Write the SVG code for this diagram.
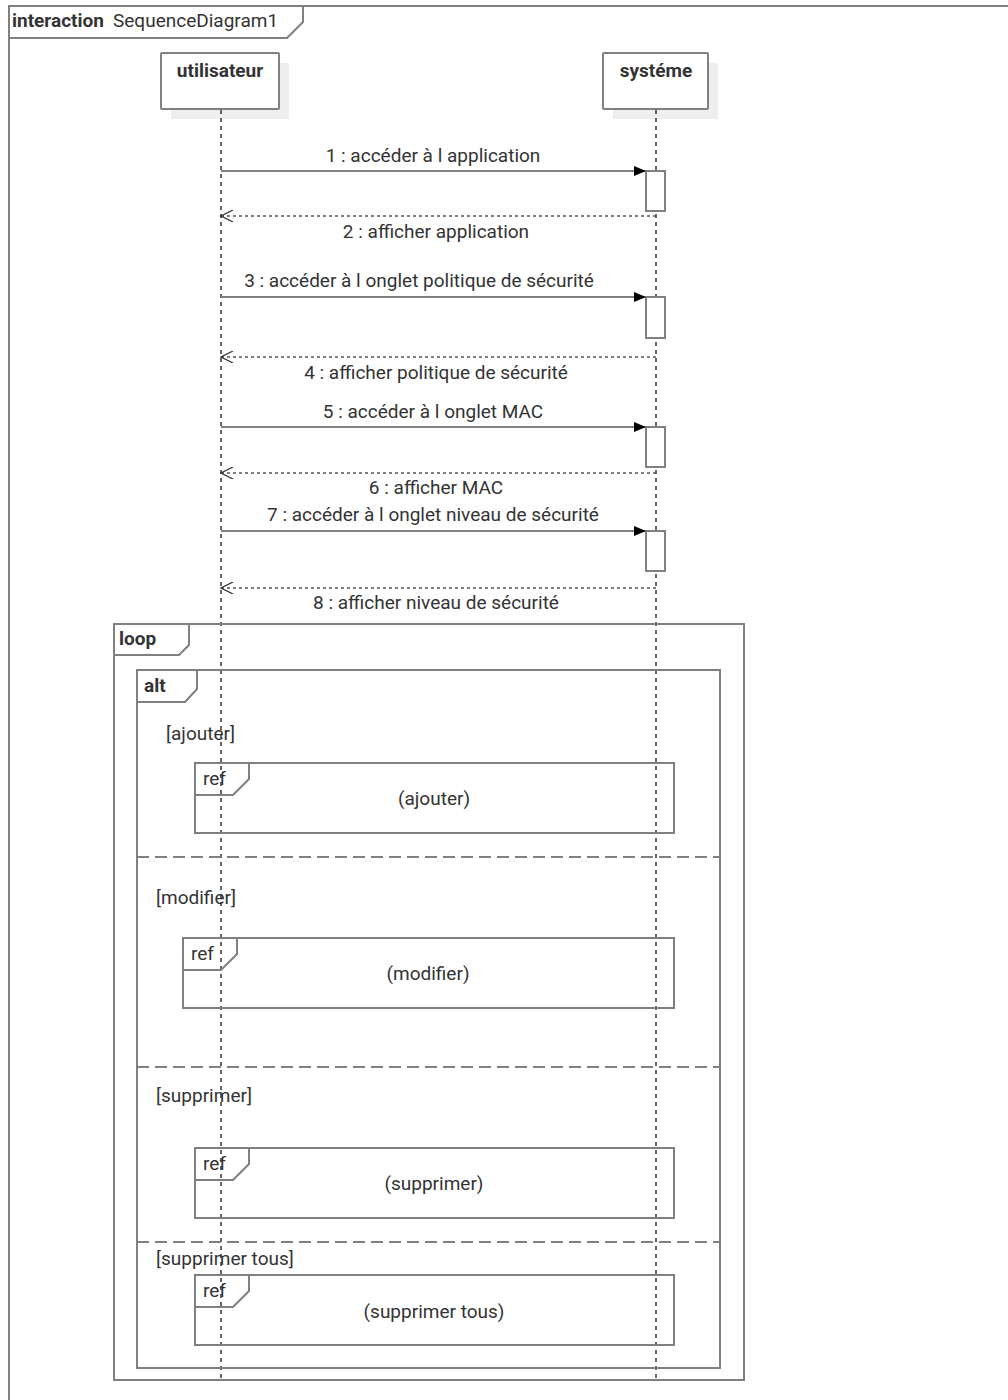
<svg xmlns="http://www.w3.org/2000/svg" width="1008" height="1400" viewBox="0 0 1008 1400">
  <defs>
    <marker id="filled" viewBox="0 0 12 10" refX="12" refY="5" markerWidth="12" markerHeight="10" markerUnits="userSpaceOnUse" orient="auto">
      <path d="M0,0 L12,5 L0,10 z" fill="#000"/>
    </marker>
    <marker id="open" viewBox="0 0 14 12" refX="13" refY="6" markerWidth="14" markerHeight="12" markerUnits="userSpaceOnUse" orient="auto">
      <path d="M1,0 L13,6 L1,12" fill="none" stroke="#333" stroke-width="1.3"/>
    </marker>
  </defs>
  <style>
    text { font-family: Roboto, "Liberation Sans", Arial, sans-serif; fill: #333; }
    .frame { fill: none; stroke: #808080; stroke-width: 2; }
    .tab { fill: none; stroke: #808080; stroke-width: 2; }
    .kw { font-size: 19px; font-weight: bold; }
    .lbl { font-size: 19px; }
    .head { font-size: 19px; font-weight: bold; text-anchor: middle; }
    .box { fill: #fff; stroke: #808080; stroke-width: 2; }
    .shadow { fill: #eeeeee; }
    .life { stroke: #333; stroke-width: 1.5; stroke-dasharray: 4 4; fill: none; }
    .call { stroke: #808080; stroke-width: 2; fill: none; }
    .ret { stroke: #555; stroke-width: 1.5; stroke-dasharray: 3 3; fill: none; }
    .act { fill: #fff; stroke: #808080; stroke-width: 2; }
    .sep { stroke: #808080; stroke-width: 2; stroke-dasharray: 12 6; }
    .mid { text-anchor: middle; }
  </style>

  <!-- interaction frame -->
  <g id="interaction">
    <path class="frame" d="M9,1410 L9,6 L1015,6"/>
    <path class="tab" d="M9,6 L303,6 L303,22 L287,38 L9,38 z"/>
    <text x="12" y="27" class="kw">interaction</text>
    <text x="113" y="27" class="lbl">SequenceDiagram1</text>
  </g>

  <!-- lifelines -->
  <g id="utilisateur">
    <rect class="shadow" x="171" y="63" width="118" height="56"/>
    <rect class="box" x="161" y="53" width="118" height="56" rx="1"/>
    <text x="220" y="77" class="head">utilisateur</text>
    <line class="life" x1="221" y1="110" x2="221" y2="1380"/>
  </g>
  <g id="systeme">
    <rect class="shadow" x="613" y="63" width="105" height="56"/>
    <rect class="box" x="603" y="53" width="105" height="56" rx="1"/>
    <text x="656" y="77" class="head">systéme</text>
    <line class="life" x1="656" y1="110" x2="656" y2="1380"/>
  </g>

  <!-- activations -->
  <g id="activations">
    <rect class="act" x="646" y="171" width="19" height="40"/>
    <rect class="act" x="646" y="297" width="19" height="41"/>
    <rect class="act" x="646" y="427" width="19" height="40"/>
    <rect class="act" x="646" y="531" width="19" height="40"/>
  </g>

  <!-- messages -->
  <g id="connectors">
    <line class="call" x1="221" y1="171" x2="646" y2="171" marker-end="url(#filled)"/>
    <text x="433" y="162" class="lbl mid">1 : accéder à l application</text>
    <line class="ret" x1="656" y1="216" x2="221" y2="216" marker-end="url(#open)"/>
    <text x="436" y="238" class="lbl mid">2 : afficher application</text>

    <line class="call" x1="221" y1="297" x2="646" y2="297" marker-end="url(#filled)"/>
    <text x="419" y="287" class="lbl mid">3 : accéder à l onglet politique de sécurité</text>
    <line class="ret" x1="656" y1="357" x2="221" y2="357" marker-end="url(#open)"/>
    <text x="436" y="379" class="lbl mid">4 : afficher politique de sécurité</text>

    <line class="call" x1="221" y1="427" x2="646" y2="427" marker-end="url(#filled)"/>
    <text x="433" y="418" class="lbl mid">5 : accéder à l onglet MAC</text>
    <line class="ret" x1="656" y1="473" x2="221" y2="473" marker-end="url(#open)"/>
    <text x="436" y="494" class="lbl mid">6 : afficher MAC</text>

    <line class="call" x1="221" y1="531" x2="646" y2="531" marker-end="url(#filled)"/>
    <text x="433" y="521" class="lbl mid">7 : accéder à l onglet niveau de sécurité</text>
    <line class="ret" x1="656" y1="588" x2="221" y2="588" marker-end="url(#open)"/>
    <text x="436" y="609" class="lbl mid">8 : afficher niveau de sécurité</text>
  </g>

  <!-- loop fragment -->
  <g id="loop">
    <rect class="frame" x="114" y="624" width="630" height="756"/>
    <path class="tab" d="M114,624 L189,624 L189,645 L179,655 L114,655 z"/>
    <text x="119" y="645" class="kw">loop</text>
  </g>

  <!-- alt fragment -->
  <g id="alt">
    <rect class="frame" x="137" y="670" width="583" height="698"/>
    <path class="tab" d="M137,670 L197,670 L197,689 L185,702 L137,702 z"/>
    <text x="144" y="692" class="kw">alt</text>
    <text x="166" y="740" class="lbl">[ajouter]</text>
    <line class="sep" x1="137" y1="857" x2="720" y2="857"/>
    <text x="156" y="904" class="lbl">[modifier]</text>
    <line class="sep" x1="137" y1="1067" x2="720" y2="1067"/>
    <text x="156" y="1102" class="lbl">[supprimer]</text>
    <line class="sep" x1="137" y1="1242" x2="720" y2="1242"/>
    <text x="156" y="1265" class="lbl">[supprimer tous]</text>
  </g>

  <!-- interaction uses -->
  <g id="ref-ajouter">
    <rect class="frame" x="195" y="763" width="479" height="70"/>
    <path class="tab" d="M195,763 L249,763 L249,779 L233,795 L195,795 z"/>
    <text x="203" y="785" class="lbl">ref</text>
    <text x="434" y="805" class="lbl mid">(ajouter)</text>
  </g>
  <g id="ref-modifier">
    <rect class="frame" x="183" y="938" width="491" height="70"/>
    <path class="tab" d="M183,938 L237,938 L237,954 L221,970 L183,970 z"/>
    <text x="191" y="960" class="lbl">ref</text>
    <text x="428" y="980" class="lbl mid">(modifier)</text>
  </g>
  <g id="ref-supprimer">
    <rect class="frame" x="195" y="1148" width="479" height="70"/>
    <path class="tab" d="M195,1148 L249,1148 L249,1164 L233,1180 L195,1180 z"/>
    <text x="203" y="1170" class="lbl">ref</text>
    <text x="434" y="1190" class="lbl mid">(supprimer)</text>
  </g>
  <g id="ref-supprimer-tous">
    <rect class="frame" x="195" y="1275" width="479" height="70"/>
    <path class="tab" d="M195,1275 L249,1275 L249,1291 L233,1307 L195,1307 z"/>
    <text x="203" y="1297" class="lbl">ref</text>
    <text x="434" y="1318" class="lbl mid">(supprimer tous)</text>
  </g>
</svg>
